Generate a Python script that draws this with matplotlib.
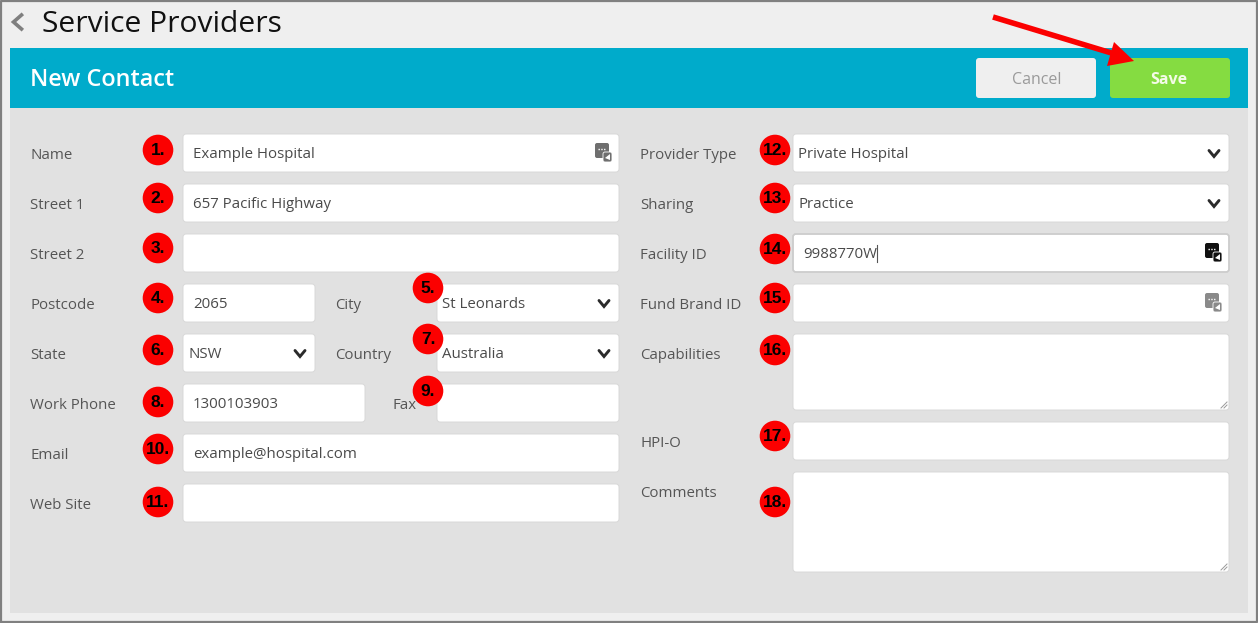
import matplotlib
matplotlib.use("Agg")
import matplotlib.pyplot as plt
from matplotlib.patches import FancyBboxPatch, Rectangle, Circle, Polygon

plt.rcParams['font.family'] = ['Open Sans', 'DejaVu Sans']

# ---------- content ----------
page_title = "Service Providers"
header_title = "New Contact"
cancel_text = "Cancel"
save_text = "Save"

left_labels = ["Name", "Street 1", "Street 2", "Postcode", "City", "State", "Country",
               "Work Phone", "Fax", "Email", "Web Site"]
right_labels = ["Provider Type", "Sharing", "Facility ID", "Fund Brand ID",
                "Capabilities", "HPI-O", "Comments"]
field_values = ["Example Hospital", "657 Pacific Highway", "", "2065", "St Leonards", "NSW",
                "Australia", "1300103903", "", "example@hospital.com", "",
                "Private Hospital", "Practice", "9988770W", "", "", "", ""]
badge_labels = [f"{i}." for i in range(1, 19)]

# ---------- layout (pixels) ----------
W, H = 1258, 623
label_pos = [(30, 153), (30, 203), (30, 253), (30, 303), (335, 303), (30, 353), (335, 353),
             (30, 403), (393, 403), (30, 453), (30, 503)]
right_label_pos = [(640, 153), (640, 203), (640, 253), (640, 303), (640, 353), (640, 441), (640, 491)]
boxes = [(183, 619, 134, 172), (183, 619, 184, 222), (183, 619, 234, 272),
         (183, 315, 284, 322), (437, 619, 284, 322), (183, 315, 334, 372),
         (437, 619, 334, 372), (183, 365, 384, 422), (437, 619, 384, 422),
         (183, 619, 434, 472), (183, 619, 484, 522),
         (793, 1229, 134, 172), (793, 1229, 184, 222), (793, 1229, 234, 272),
         (793, 1229, 284, 322), (793, 1229, 334, 410), (793, 1229, 422, 460),
         (793, 1229, 472, 572)]
text_inset = [10, 10, 10, 10, 5, 5, 5, 10, 10, 10, 10, 5.5, 5.5, 10, 10, 10, 10, 10]
selects = [4, 5, 6, 11, 12]
textareas = [15, 17]
icons = [(603, 153, "#6f6f6f"), (1213, 253, "#111111"), (1213, 303, "#8a8a8a")]
badges = [(158, 150), (158, 198), (158, 248), (158, 298), (428, 288), (158, 350), (428, 339),
          (158, 402), (428, 391), (158, 449), (158, 502), (775, 150), (775, 198), (775, 249),
          (775, 298), (775, 350), (775, 436), (775, 502)]

fig = plt.figure(figsize=(W / 100, H / 100), dpi=100, facecolor="#efefef")
ax = fig.add_axes([0, 0, 1, 1])
ax.set_xlim(0, W)
ax.set_ylim(H, 0)
ax.axis("off")


def rrect(x0, x1, y0, y1, fc, ec="none", lw=0, r=3, z=2):
    p = FancyBboxPatch((x0 + r, y0 + r), x1 - x0 - 2 * r, y1 - y0 - 2 * r,
                       boxstyle=f"round,pad={r},rounding_size={r}",
                       fc=fc, ec=ec, lw=lw, zorder=z)
    ax.add_patch(p)


def chevron(x, y, color="#2b2b2b", w=5, h=3, lw=2.1):
    ax.plot([x - w, x, x + w], [y - h, y + h, y - h], color=color, lw=lw,
            solid_capstyle="round", solid_joinstyle="miter", zorder=4)


def id_icon(x, y, color):
    rrect(x - 8, x + 6, y - 10, y + 5, color, r=2, z=4)
    ax.plot([x - 5, x + 3], [y - 4, y - 4], color="white", lw=1, ls=(0, (1, 1)), zorder=5)
    rrect(x, x + 9, y - 1, y + 9, color, ec="white", lw=0.6, r=2, z=5)
    ax.add_patch(Polygon([[x + 2, y + 5], [x + 7, y + 1], [x + 7, y + 7]], fc="white", ec="none", zorder=6))


# page frame and panels
ax.add_patch(Rectangle((10, 108), 1238, 505, fc="#e1e1e1", ec="none", zorder=1))
ax.add_patch(Rectangle((10, 48), 1238, 60, fc="#00abcb", ec="none", zorder=1))
ax.plot([1, 1, W - 1, W - 1, 1], [H - 1, 1, 1, H - 1, H - 1], color="#808080", lw=1.6, zorder=8)

# title row
ax.plot([21.5, 13.5, 21.5], [15, 22, 29], color="#7f7f7f", lw=2.6, solid_joinstyle="miter", zorder=3)
ax.text(42, 24, page_title, fontsize=21.6, color="#111111", va="center", ha="left", zorder=3)
ax.text(30, 80, header_title, fontsize=16.8, fontweight="semibold", color="white", va="center", ha="left", zorder=3)

# buttons
rrect(976, 1096, 58, 98, "#efefef", r=3)
ax.text(1037, 80, cancel_text, fontsize=11.5, color="#9a9a9a", ha="center", va="center", zorder=3)
rrect(1110, 1230, 58, 98, "#85dc41", r=3)
ax.text(1169, 80, save_text, fontsize=11.5, fontweight="bold", color="#f4fbe8", ha="center", va="center", zorder=3)

# arrow
ax.plot([993, 1118], [17, 55], color="#fb0000", lw=4.0, solid_capstyle="butt", zorder=7)
ax.add_patch(Polygon([[1134, 61], [1114, 42], [1107, 66]], fc="#fb0000", ec="none", zorder=7))

# labels
for (x, y), t in zip(label_pos + right_label_pos, left_labels + right_labels):
    ax.text(x, y + 2.5, t, fontsize=10.8, color="#555555", va="center", ha="left", zorder=3)

# fields
for i, ((x0, x1, y0, y1), v) in enumerate(zip(boxes, field_values)):
    focused = i == 13
    rrect(x0, x1, y0, y1, "white", ec="#cccccc" if focused else "#d8d8d8",
          lw=1.3 if focused else 0.7)
    if v:
        ax.text(x0 + text_inset[i], (y0 + y1) / 2 + 2, v, fontsize=10.8, color="#4a4a4a",
                va="center", ha="left", zorder=3)
    if i in selects:
        chevron(x1 - 15, (y0 + y1) / 2 + 0.5)
    if i in textareas:
        ax.plot([x1 - 8, x1 - 2], [y1 - 2, y1 - 8], color="#9a9a9a", lw=0.7, zorder=4)
        ax.plot([x1 - 5, x1 - 2], [y1 - 2, y1 - 5], color="#9a9a9a", lw=0.7, zorder=4)

# text cursor in the Facility ID field
ax.plot([877, 877], [245, 262], color="#555555", lw=0.8, zorder=4)

for x, y, c in icons:
    id_icon(x, y, c)

# numbered badges
for (x, y), t in zip(badges, badge_labels):
    ax.add_patch(Circle((x, y), 15.3, fc="#fb0000", ec="none", zorder=6))
    ax.text(x, y + 0.5, t, family="Liberation Sans", fontsize=12.5, fontweight="bold",
            color="black", ha="center", va="center", zorder=7)

fig.savefig("out.png", dpi=100, facecolor=fig.get_facecolor())
